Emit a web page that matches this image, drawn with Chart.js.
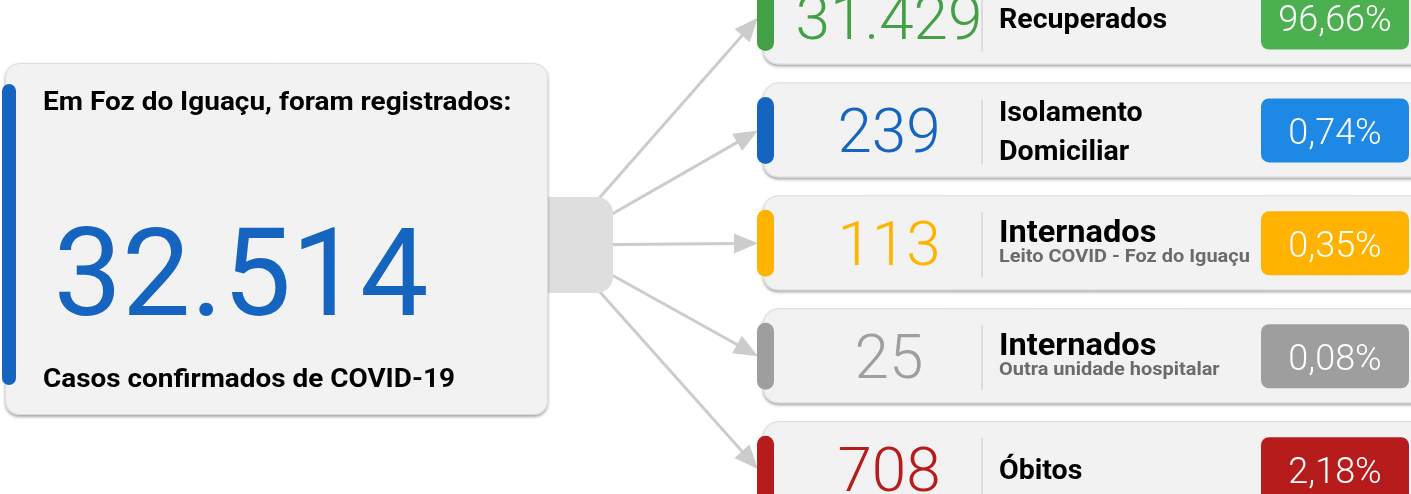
<!DOCTYPE html>
<html>
<head>
<meta charset="utf-8">
<script src="https://cdn.jsdelivr.net/npm/chart.js@4.4.0/dist/chart.umd.min.js"></script>
<style>
    html, body { margin: 0; padding: 0; background: #fff; overflow: hidden; }
    #wrap { position: relative; width: 1411px; height: 494px; }
</style>
</head>
<body>
<div id="wrap"><canvas id="covidChart"></canvas></div>
<script>
// Data
const cityName = 'Foz do Iguaçu';
const totalCases = 32514;
const categories = ['Recuperados', 'Isolamento Domiciliar', 'Internados (Foz)', 'Internados (outra)', 'Óbitos'];
const labelLines = [['Recuperados'], ['Isolamento', 'Domiciliar'], ['Internados'], ['Internados'], ['Óbitos']];
const subLabels = ['', '', 'Leito COVID - Foz do Iguaçu', 'Outra unidade hospitalar', ''];
const caseCounts = [31429, 239, 113, 25, 708];
const percentages = [96.66, 0.74, 0.35, 0.08, 2.18];
const stripColors = ['#43a047', '#1565c0', '#ffb300', '#9e9e9e', '#b71c1c'];
const boxColors = ['#4caf50', '#1e88e5', '#ffb300', '#9e9e9e', '#b71c1c'];

const FONT = 'Roboto, "Noto Sans", sans-serif';

function fmtInt(n) {
    return n.toString().replace(/\B(?=(\d{3})+(?!\d))/g, '.');
}
function fmtPct(p) {
    return p.toFixed(2).replace('.', ',') + '%';
}

function roundRect(ctx, x, y, w, h, r) {
    ctx.beginPath();
    ctx.roundRect(x, y, w, h, r);
}

// draw text, optionally stretched horizontally
function text(ctx, str, x, y, font, color, align, sx) {
    ctx.save();
    ctx.font = font;
    ctx.fillStyle = color;
    ctx.textAlign = align || 'left';
    ctx.textBaseline = 'alphabetic';
    ctx.translate(x, y);
    ctx.scale(sx || 1, 1);
    ctx.fillText(str, 0, 0);
    ctx.restore();
}

function card(ctx, x, y, w, h, r) {
    ctx.save();
    ctx.shadowColor = 'rgba(0,0,0,0.35)';
    ctx.shadowBlur = 3;
    ctx.shadowOffsetY = 2;
    roundRect(ctx, x, y, w, h, r);
    ctx.fillStyle = '#f2f2f2';
    ctx.fill();
    ctx.restore();
    roundRect(ctx, x + 0.5, y + 0.5, w - 1, h - 1, r);
    ctx.strokeStyle = '#dcdcdc';
    ctx.lineWidth = 1;
    ctx.stroke();
}

function arrow(ctx, x0, y0, x1, y1) {
    const ang = Math.atan2(y1 - y0, x1 - x0);
    const len = 24, half = 10;
    const bx = x1 - Math.cos(ang) * len;
    const by = y1 - Math.sin(ang) * len;
    ctx.save();
    ctx.strokeStyle = '#cccccc';
    ctx.fillStyle = '#cccccc';
    ctx.lineWidth = 3;
    ctx.beginPath();
    ctx.moveTo(x0, y0);
    ctx.lineTo(bx + Math.cos(ang) * 4, by + Math.sin(ang) * 4);
    ctx.stroke();
    ctx.beginPath();
    ctx.moveTo(x1, y1);
    ctx.lineTo(bx - Math.sin(ang) * half, by + Math.cos(ang) * half);
    ctx.lineTo(bx + Math.sin(ang) * half, by - Math.cos(ang) * half);
    ctx.closePath();
    ctx.fill();
    ctx.restore();
}

const infographic = {
    id: 'infographic',
    afterDatasetsDraw(chart) {
        const ctx = chart.ctx;
        const meta = chart.getDatasetMeta(0);
        const ys = meta.data.map(el => el.y);

        // arrows from the connector to every card
        ys.forEach(y => arrow(ctx, 558, 245, 758, y));

        // connector block
        roundRect(ctx, 540, 197, 73, 96, [0, 16, 16, 0]);
        ctx.fillStyle = '#dedede';
        ctx.fill();

        // left card: total cases
        card(ctx, 5, 63, 543, 352, 14);
        roundRect(ctx, 2, 84, 14, 301, 7);
        ctx.fillStyle = '#1565c0';
        ctx.fill();
        text(ctx, 'Em ' + cityName + ', foram registrados:', 43, 110, 'bold 26px ' + FONT, '#000', 'left', 1.075);
        text(ctx, fmtInt(totalCases), 241, 315, '400 122px ' + FONT, '#1565c0', 'center');
        text(ctx, 'Casos confirmados de COVID-19', 43, 387, 'bold 26px ' + FONT, '#000', 'left', 1.073);

        // right cards
        ys.forEach((c, i) => {
            card(ctx, 763, c - 48, 700, 95, 15);
            roundRect(ctx, 757, c - 33.5, 17, 67, 8.5);
            ctx.fillStyle = stripColors[i];
            ctx.fill();

            text(ctx, fmtInt(caseCounts[i]), 889, c + 21.5, '300 62px ' + FONT, stripColors[i], 'center');

            ctx.beginPath();
            ctx.moveTo(982, c - 31);
            ctx.lineTo(982, c + 34);
            ctx.strokeStyle = '#d4d4d4';
            ctx.lineWidth = 1.5;
            ctx.stroke();

            const lines = labelLines[i];
            if (subLabels[i]) {
                text(ctx, lines[0], 999, c - 1, 'bold 31px ' + FONT, '#000', 'left', 1.05);
                text(ctx, subLabels[i], 999, c + 19, 'bold 19px ' + FONT, '#6b6b6b', 'left', 1.05);
            } else if (lines.length === 2) {
                text(ctx, lines[0], 999, c - 9, 'bold 28px ' + FONT, '#000', 'left', 1.02);
                text(ctx, lines[1], 999, c + 30, 'bold 28px ' + FONT, '#000', 'left', 1.02);
            } else {
                text(ctx, lines[0], 999, c + 10, 'bold 28px ' + FONT, '#000', 'left', 1.02);
            }

            roundRect(ctx, 1261, c - 32, 148, 64, 8);
            ctx.fillStyle = boxColors[i];
            ctx.fill();
            text(ctx, fmtPct(percentages[i]), 1335, c + 13.5, '300 36px ' + FONT, '#fff', 'center');
        });
    }
};

function build() {
    new Chart(document.getElementById('covidChart'), {
        type: 'bar',
        data: {
            labels: categories,
            datasets: [{
                label: 'Casos',
                data: caseCounts.map((v, i) => ({ x: v, y: i })),
                backgroundColor: 'rgba(0,0,0,0)',
                borderWidth: 0
            }]
        },
        options: {
            indexAxis: 'y',
            responsive: false,
            animation: false,
            layout: { padding: 0 },
            scales: {
                x: { display: false, min: 0, max: totalCases * 50 },
                y: { type: 'linear', display: false, offset: false, reverse: true, min: -0.155, max: 4.22 }
            },
            plugins: {
                legend: { display: false },
                tooltip: { enabled: false }
            }
        },
        plugins: [infographic]
    });
}

const canvas = document.getElementById('covidChart');
canvas.width = 1411;
canvas.height = 494;
Promise.all([
    document.fonts.load('bold 26px Roboto'),
    document.fonts.load('300 62px Roboto'),
    document.fonts.load('400 122px Roboto')
]).then(build, build);
</script>
</body>
</html>
